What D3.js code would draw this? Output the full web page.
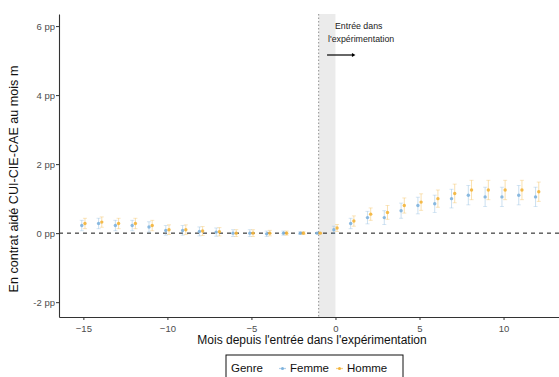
<!DOCTYPE html>
<html><head><meta charset="utf-8">
<script src="https://cdn.jsdelivr.net/npm/d3@7"></script>
<style>body{margin:0;background:#fff}svg{display:block;font-family:"Liberation Sans",Arial,sans-serif}</style>
</head><body><svg id="c" width="559" height="377"></svg>
<script>
const months = d3.range(-15, 13);
const femme = [0.22,0.28,0.22,0.22,0.18,0.08,0.08,0.05,0.03,0.0,0.0,-0.02,0.0,0.0,0.0,0.1,0.28,0.45,0.45,0.65,0.8,0.85,1.0,1.1,1.05,1.05,1.1,1.05];
const homme = [0.28,0.32,0.28,0.28,0.22,0.1,0.1,0.06,0.04,0.0,0.0,0.0,0.0,0.0,0.0,0.15,0.35,0.55,0.6,0.8,0.9,1.0,1.15,1.25,1.25,1.25,1.25,1.2];
const femmeCI = [0.15,0.15,0.15,0.15,0.15,0.14,0.14,0.13,0.12,0.1,0.1,0.08,0.06,0.04,0.0,0.1,0.15,0.18,0.2,0.22,0.24,0.25,0.27,0.28,0.28,0.28,0.28,0.28];
const hommeCI = [0.15,0.15,0.15,0.15,0.15,0.14,0.14,0.13,0.12,0.1,0.1,0.08,0.06,0.04,0.0,0.1,0.15,0.18,0.2,0.22,0.24,0.25,0.27,0.28,0.28,0.28,0.28,0.28];
const yTicks = [-2, 0, 2, 4, 6];
const xTicks = [-15, -10, -5, 0, 5, 10];
const seriesNames = ["Femme", "Homme"];
const colors = {Femme: "#7fb3dd", Homme: "#f3b43a"};

const svg = d3.select("#c");
const m = {l: 59, r: 0, t: 14, b: 60};
const W = 559, H = 377;
const x = d3.scaleLinear().domain([-16.45, 13.3]).range([m.l, W - m.r]);
const y = d3.scaleLinear().domain([-2.43, 6.35]).range([H - m.b, m.t]);

svg.append("rect").attr("x", x(-1)).attr("width", x(0) - x(-1))
  .attr("y", m.t).attr("height", y.range()[0] - m.t).attr("fill", "#ebebeb");
svg.append("line").attr("x1", x(-1)).attr("x2", x(-1)).attr("y1", m.t).attr("y2", y.range()[0])
  .attr("stroke", "#777").attr("stroke-width", 0.8).attr("stroke-dasharray", "1.5,2");
svg.append("line").attr("x1", m.l).attr("x2", W).attr("y1", y(0)).attr("y2", y(0))
  .attr("stroke", "#111").attr("stroke-width", 1).attr("stroke-dasharray", "4,4");

const series = [
  {name: "Femme", vals: femme, ci: femmeCI, dx: -1.6},
  {name: "Homme", vals: homme, ci: hommeCI, dx: 1.6}
];
series.forEach(s => {
  const g = svg.append("g");
  months.forEach((mo, i) => {
    const cx = x(mo) + s.dx;
    const lo = s.vals[i] - s.ci[i], hi = s.vals[i] + s.ci[i];
    g.append("line").attr("x1", cx).attr("x2", cx).attr("y1", y(lo)).attr("y2", y(hi))
      .attr("stroke", colors[s.name]).attr("stroke-width", 1).attr("opacity", 0.4);
    [lo, hi].forEach(v => g.append("line").attr("x1", cx - 2).attr("x2", cx + 2).attr("y1", y(v)).attr("y2", y(v))
      .attr("stroke", colors[s.name]).attr("stroke-width", 0.8).attr("opacity", 0.4));
    g.append("circle").attr("cx", cx).attr("cy", y(s.vals[i])).attr("r", 1.7)
      .attr("fill", colors[s.name]).attr("opacity", 0.9);
  });
});

const xAxis = svg.append("g").attr("transform", `translate(0,${y.range()[0]})`)
  .call(d3.axisBottom(x).tickValues(xTicks).tickSize(3).tickSizeOuter(0));
const yAxis = svg.append("g").attr("transform", `translate(${m.l},0)`)
  .call(d3.axisLeft(y).tickValues(yTicks).tickSize(3).tickSizeOuter(0).tickFormat(d => d + " pp"));
[xAxis, yAxis].forEach(a => {
  a.select(".domain").attr("stroke", "#333").attr("stroke-width", 1.1);
  a.selectAll(".tick line").attr("stroke", "#333");
  a.selectAll("text").attr("fill", "#4d4d4d").style("font-size", "9.5px").style("font-family", "Liberation Sans, Arial, sans-serif");
});
xAxis.selectAll("text").attr("dy", "0.95em");
yAxis.selectAll("text").attr("x", -4);

svg.append("text").attr("x", 312).attr("y", 344).attr("text-anchor", "middle")
  .style("font-size", "12px").attr("fill", "#111").text("Mois depuis l'entrée dans l'expérimentation");
svg.append("text").attr("transform", `translate(18,179) rotate(-90)`).attr("text-anchor", "middle")
  .style("font-size", "12.6px").attr("fill", "#111").text("En contrat aidé CUI-CIE-CAE au mois m");

svg.append("text").attr("x", 335).attr("y", 29).style("font-size", "8.8px").attr("fill", "#222").text("Entrée dans");
svg.append("text").attr("x", 328).attr("y", 42).style("font-size", "8.8px").attr("fill", "#222").text("l'expérimentation");
svg.append("line").attr("x1", x(-0.5)).attr("x2", x(1.1)).attr("y1", 55).attr("y2", 55).attr("stroke", "#000").attr("stroke-width", 1.2);
svg.append("path").attr("d", `M${x(1.1)+1.5},55 L${x(1.1)-2},53 L${x(1.1)-2},57 Z`).attr("fill", "#000");

const lg = svg.append("g");
lg.append("rect").attr("x", 226).attr("y", 355).attr("width", 177).attr("height", 26)
  .attr("fill", "#fff").attr("stroke", "#111").attr("stroke-width", 1);
lg.append("text").attr("x", 231).attr("y", 372).style("font-size", "11.5px").attr("fill", "#111").text("Genre");
const lx = [279, 336];
seriesNames.forEach((n, i) => {
  lg.append("line").attr("x1", lx[i]).attr("x2", lx[i] + 7).attr("y1", 368.5).attr("y2", 368.5)
    .attr("stroke", colors[n]).attr("stroke-width", 1.2).attr("opacity", 0.6);
  lg.append("circle").attr("cx", lx[i] + 3.5).attr("cy", 368.5).attr("r", 1.5).attr("fill", colors[n]);
  lg.append("text").attr("x", lx[i] + 11).attr("y", 372).style("font-size", "11.5px").attr("fill", "#111").text(n);
});
</script></body></html>
